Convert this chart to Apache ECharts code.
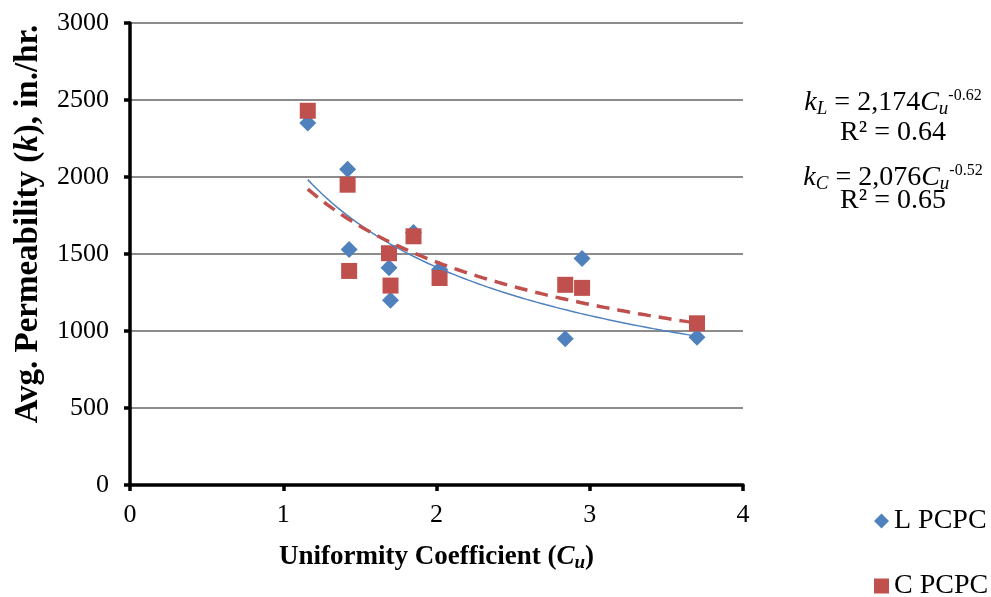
<!DOCTYPE html>
<html>
<head>
<meta charset="utf-8">
<script src="https://cdn.jsdelivr.net/npm/echarts@6/dist/echarts.min.js"></script>
<style>
  html, body { margin: 0; padding: 0; background: #fff; }
  #chart { width: 991px; height: 597px; }
</style>
</head>
<body>
<div id="chart"></div>
<script>
// Uniformity coefficient vs. average permeability for two PCPC mixes
const cuL = [1.16, 1.42, 1.43, 1.69, 1.70, 1.85, 2.02, 2.84, 2.95, 3.70];
const kL  = [2350, 2050, 1530, 1410, 1200, 1640, 1400, 950, 1470, 960];
const cuC = [1.16, 1.42, 1.43, 1.69, 1.70, 1.85, 2.02, 2.84, 2.95, 3.70];
const kC  = [2430, 1950, 1390, 1505, 1295, 1615, 1344, 1300, 1280, 1050];

// Power-law fits k = a * Cu^b
const fitL = [2174, -0.62];
const fitC = [2076, -0.52];

const xTicks = [0, 1, 2, 3, 4];
const yTicks = [0, 500, 1000, 1500, 2000, 2500, 3000];

const FONT = '"Liberation Serif", "Times New Roman", serif';

function powerCurve(fit, xs) {
  const lo = Math.min(...xs), hi = Math.max(...xs);
  const pts = [];
  const n = 80;
  for (let i = 0; i <= n; i++) {
    const x = lo + (hi - lo) * i / n;
    pts.push([x, fit[0] * Math.pow(x, fit[1])]);
  }
  return pts;
}

const eqRich = {
  n:   { fontFamily: FONT, fontSize: 28, color: '#000', lineHeight: 30 },
  i:   { fontFamily: FONT, fontSize: 28, fontStyle: 'italic', color: '#000', lineHeight: 30 },
  sub: { fontFamily: FONT, fontSize: 19, fontStyle: 'italic', color: '#000', lineHeight: 30, padding: [12, 0, 0, 0] },
  sup: { fontFamily: FONT, fontSize: 16, color: '#000', lineHeight: 30, padding: [0, 0, 14, 0] }
};

function eqLine(y, text) {
  return {
    type: 'text',
    x: 893,
    y: y,
    z: 10,
    style: {
      text: text,
      align: 'center',
      verticalAlign: 'middle',
      rich: eqRich
    }
  };
}

const chart = echarts.init(document.getElementById('chart'));

const legendText = { fontFamily: FONT, fontSize: 28, color: '#000' };

const option = {
  backgroundColor: '#fff',
  animation: false,
  grid: { left: 130, right: 248, top: 23, bottom: 112 },
  xAxis: {
    type: 'value',
    min: xTicks[0], max: xTicks[xTicks.length - 1], interval: 1,
    name: '{b|Uniformity Coefficient (}{bi|C}{sub|u}{b|)}',
    nameLocation: 'middle',
    nameGap: 57,
    nameTextStyle: {
      rich: {
        b:   { fontFamily: FONT, fontSize: 27, fontWeight: 'bold', color: '#000' },
        bi:  { fontFamily: FONT, fontSize: 27, fontWeight: 'bold', fontStyle: 'italic', color: '#000' },
        sub: { fontFamily: FONT, fontSize: 19, fontWeight: 'bold', fontStyle: 'italic', color: '#000', padding: [12, 0, 0, 0] }
      }
    },
    axisLine: { lineStyle: { color: '#000', width: 3.5 } },
    axisTick: { show: true, length: 6, lineStyle: { color: '#000', width: 3.5 } },
    axisLabel: { fontFamily: FONT, fontSize: 26, color: '#000', margin: 17 },
    splitLine: { show: false }
  },
  yAxis: {
    type: 'value',
    min: yTicks[0], max: yTicks[yTicks.length - 1], interval: 500,
    axisLine: { show: true, lineStyle: { color: '#000', width: 3.5 } },
    axisTick: { show: true, length: 6, lineStyle: { color: '#000', width: 3.5 } },
    axisLabel: {
      fontFamily: FONT, fontSize: 26, color: '#000', margin: 21,
      formatter: v => String(v)
    },
    splitLine: { show: true, lineStyle: { color: '#8c8c8c', width: 2 } }
  },
  legend: [
    {
      left: 869, top: 502,
      itemWidth: 15, itemHeight: 15,
      data: [{ name: 'L PCPC', icon: 'diamond' }],
      textStyle: legendText
    },
    {
      left: 869, top: 567,
      itemWidth: 15, itemHeight: 15,
      data: [{ name: 'C PCPC', icon: 'rect' }],
      textStyle: legendText
    }
  ],
  series: [
    {
      name: 'L PCPC',
      type: 'scatter',
      symbol: 'diamond',
      symbolSize: 17,
      itemStyle: { color: '#4F81BD', opacity: 1 },
      data: cuL.map((x, i) => [x, kL[i]]),
      z: 3
    },
    {
      name: 'C PCPC',
      type: 'scatter',
      symbol: 'rect',
      symbolSize: 16,
      itemStyle: { color: '#C0504D', opacity: 1 },
      data: cuC.map((x, i) => [x, kC[i]]),
      z: 3
    },
    {
      name: 'L fit',
      type: 'line',
      showSymbol: false,
      lineStyle: { color: '#4F81BD', width: 1.5 },
      data: powerCurve(fitL, cuL),
      z: 4
    },
    {
      name: 'C fit',
      type: 'line',
      showSymbol: false,
      lineStyle: { color: '#C0504D', width: 3.5, type: [13, 8] },
      data: powerCurve(fitC, cuC),
      z: 4
    }
  ],
  graphic: [
    // Y-axis title, rotated to read bottom-to-top
    {
      type: 'text',
      x: 28,
      y: 224,
      rotation: Math.PI / 2,
      style: {
        text: '{b|Avg. Permeability (}{bi|k}{b|), in./hr.}',
        align: 'center',
        verticalAlign: 'middle',
        rich: {
          b:  { fontFamily: FONT, fontSize: 33, fontWeight: 'bold', color: '#000' },
          bi: { fontFamily: FONT, fontSize: 33, fontWeight: 'bold', fontStyle: 'italic', color: '#000' }
        }
      }
    },
    eqLine(103, '{i|k}{sub|L}{n| = 2,174}{i|C}{sub|u}{sup|-0.62}'),
    eqLine(133, '{n|R² = 0.64}'),
    eqLine(178, '{i|k}{sub|C}{n| = 2,076}{i|C}{sub|u}{sup|-0.52}'),
    eqLine(201, '{n|R² = 0.65}')
  ]
};

chart.setOption(option);
</script>
</body>
</html>
